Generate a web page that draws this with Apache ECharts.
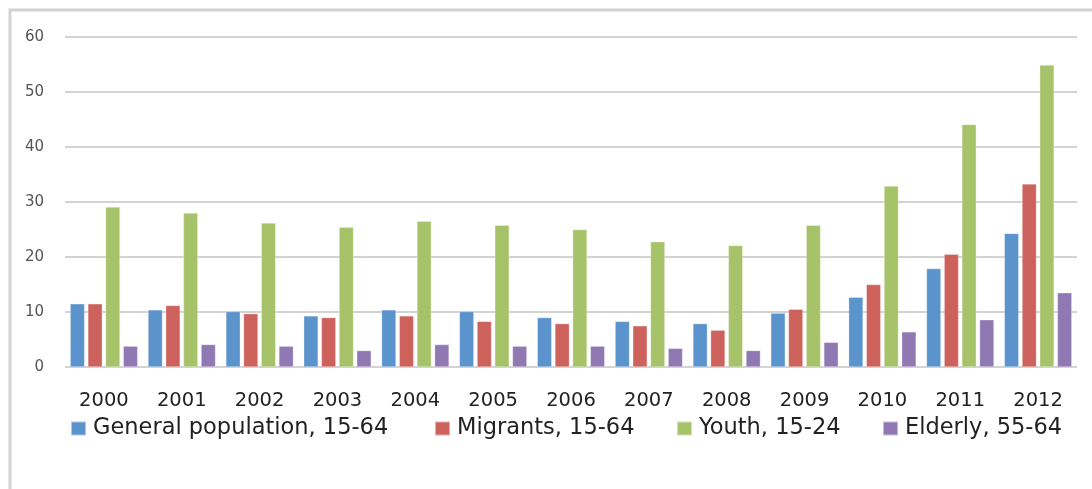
<!DOCTYPE html>
<html><head><meta charset="utf-8">
<script src="https://cdn.jsdelivr.net/npm/echarts@6/dist/echarts.min.js"></script>
<style>html,body{margin:0;padding:0;background:#fff}#c{width:1092px;height:489px}</style>
</head><body><div id="c"></div>
<script>
const years = ['2000','2001','2002','2003','2004','2005','2006','2007','2008','2009','2010','2011','2012'];
const generalPop = [11.5,10.4,10.1,9.3,10.4,10.1,9.0,8.3,7.9,9.8,12.7,17.9,24.3];
const migrants = [11.5,11.2,9.7,9.0,9.3,8.3,7.9,7.5,6.7,10.5,15.0,20.5,33.3];
const youth = [29.1,28.0,26.2,25.4,26.5,25.8,25.0,22.8,22.1,25.8,32.9,44.1,54.9];
const elderly = [3.8,4.1,3.8,3.0,4.1,3.8,3.8,3.4,3.0,4.5,6.4,8.6,13.5];
const yTicks = [0,10,20,30,40,50,60];

const font = 'DejaVu Sans';
const colors = ['#5b93cc','#cd615c','#a7c36a','#9079b3'];
const names = ['General population, 15-64','Migrants, 15-64','Youth, 15-24','Elderly, 55-64'];
const data = [generalPop, migrants, youth, elderly];
const legendLeft = [70, 434, 676, 882];

const chart = echarts.init(document.getElementById('c'));
chart.setOption({
  animation: false,
  color: colors,
  graphic: [{type:'rect', shape:{x:10,y:10,width:1200,height:600}, style:{fill:'none', stroke:'#d3d3d3', lineWidth:3}, z:-1}],
  grid: {left:65, right:15, top:37, bottom:122, containLabel:false},
  legend: names.map((n,i) => ({
    left: legendLeft[i], top: 417, padding: 0, itemWidth: 15, itemHeight: 14,
    icon: 'rect',
    textStyle: {fontFamily: font, fontSize: 22.5, color: '#222', padding:[0,0,0,2]},
    data: [n]
  })),
  xAxis: {
    type: 'category', data: years,
    axisLine: {show: false}, axisTick: {show: false},
    axisLabel: {fontFamily: font, fontSize: 19.5, color: '#222', margin: 24}
  },
  yAxis: {
    type: 'value', min: yTicks[0], max: yTicks[yTicks.length-1], interval: 10,
    axisLine: {show:false}, axisTick: {show:false},
    axisLabel: {fontFamily: font, fontSize: 15, color: '#555', margin: 21},
    splitLine: {lineStyle: {color: '#d3d3d3', width: 2}}
  },
  series: data.map((d,i) => ({
    name: names[i], type: 'bar', data: d,
    barWidth: 14.5, barGap: '22%',
    itemStyle: {color: colors[i], borderColor: 'rgba(255,255,255,0.5)', borderWidth: 0.6}
  }))
});
</script></body></html>
